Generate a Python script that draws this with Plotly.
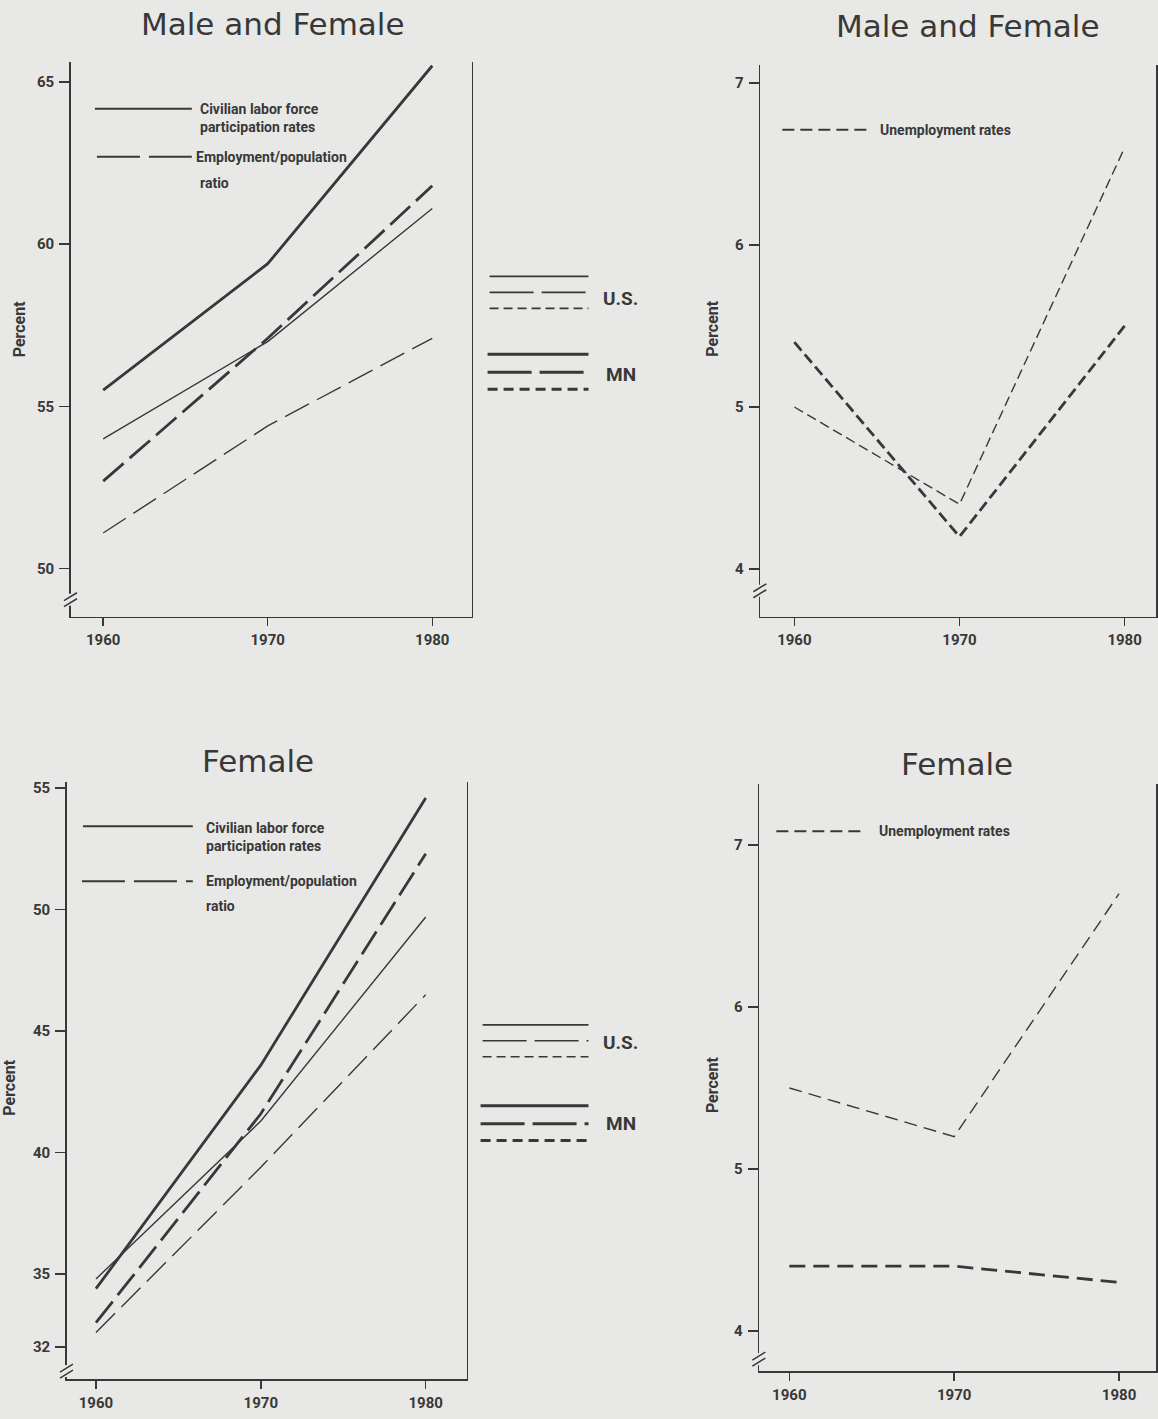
import plotly.graph_objects as go

# ---------------- data ----------------
years = [1960, 1970, 1980]

# Male and Female
mf_us_lfpr = [54.0, 57.0, 61.1]     # U.S. civilian labor force participation
mf_mn_lfpr = [55.5, 59.4, 65.5]     # MN civilian labor force participation
mf_us_epop = [51.1, 54.4, 57.1]     # U.S. employment/population ratio
mf_mn_epop = [52.7, 57.1, 61.8]     # MN employment/population ratio
mf_us_unemp = [5.0, 4.4, 6.6]       # U.S. unemployment rate
mf_mn_unemp = [5.4, 4.2, 5.5]       # MN unemployment rate

# Female
f_us_lfpr = [34.8, 41.3, 49.7]
f_mn_lfpr = [34.4, 43.6, 54.6]
f_us_epop = [32.6, 39.4, 46.5]
f_mn_epop = [33.0, 41.6, 52.3]
f_us_unemp = [5.5, 5.2, 6.7]
f_mn_unemp = [4.4, 4.4, 4.3]

x_ticks = [1960, 1970, 1980]
y_ticks_mf_rates = [50, 55, 60, 65]
y_ticks_mf_unemp = [4, 5, 6, 7]
y_ticks_f_rates = [32, 35, 40, 45, 50, 55]
y_ticks_f_unemp = [4, 5, 6, 7]

titles = ["Male and Female", "Male and Female", "Female", "Female"]
legend_lfpr = "Civilian labor force<br>participation rates"
legend_epop = "Employment/population"
legend_ratio = "ratio"
legend_unemp = "Unemployment rates"
y_title = "Percent"

# ---------------- style / layout ----------------
W, H = 1158, 1419
BG = "#e8e8e6"
INK = "#383838"
NARROW = "Roboto, Liberation Sans, sans-serif"
TITLEF = "DejaVu Sans, Verdana, sans-serif"
THIN, THICK = 1.4, 2.8


def fx(p):
    return p / W


def fy(p):
    return 1 - p / H


# pixel frame of each panel: left, right, top, bottom + axis ranges
panels = [
    dict(l=71, r=472, t=59, b=615, xr=[1958.04, 1982.39], yr=[48.52, 65.62],
         yt=y_ticks_mf_rates, brk=598, title_x=273, title_y=21, pct=(19, 326)),
    dict(l=761, r=1157, t=62, b=615, xr=[1957.94, 1981.90], yr=[3.706, 7.111],
         yt=y_ticks_mf_unemp, brk=589, title_x=969, title_y=23, pct=(713, 326)),
    dict(l=67, r=467, t=781, b=1379, xr=[1958.24, 1982.48], yr=[30.68, 55.24],
         yt=y_ticks_f_rates, brk=1371, title_x=258, title_y=760, pct=(10, 1086)),
    dict(l=760, r=1157, t=783, b=1371, xr=[1958.18, 1982.24], yr=[3.752, 7.375],
         yt=y_ticks_f_unemp, brk=1359, title_x=958, title_y=763, pct=(713, 1084)),
]

fig = go.Figure()


def add_line(i, y, width, dash):
    sfx = "" if i == 0 else str(i + 1)
    fig.add_trace(go.Scatter(
        x=years, y=y, mode="lines", xaxis="x" + sfx, yaxis="y" + sfx,
        line=dict(color=INK, width=width, dash=dash), showlegend=False,
        hoverinfo="skip"))


# panel 1: male and female rates
add_line(0, mf_us_lfpr, THIN, "solid")
add_line(0, mf_mn_lfpr, THICK, "solid")
add_line(0, mf_us_epop, THIN, "27px,9px")
add_line(0, mf_mn_epop, THICK, "27px,8px")
# panel 2: male and female unemployment
add_line(1, mf_us_unemp, THIN, "10px,5px")
add_line(1, mf_mn_unemp, THICK, "11px,5px")
# panel 3: female rates
add_line(2, f_us_lfpr, THIN, "solid")
add_line(2, f_mn_lfpr, THICK, "solid")
add_line(2, f_us_epop, THIN, "27px,9px")
add_line(2, f_mn_epop, THICK, "27px,8px")
# panel 4: female unemployment
add_line(3, f_us_unemp, THIN, "13px,7px")
add_line(3, f_mn_unemp, THICK, "16px,8px")

layout = dict(
    width=W, height=H, margin=dict(l=0, r=0, t=0, b=0),
    paper_bgcolor=BG, plot_bgcolor=BG, showlegend=False,
    font=dict(family=NARROW, color=INK, size=14, weight="bold"),
)

shapes = []
annotations = []

for i, p in enumerate(panels):
    sfx = "" if i == 0 else str(i + 1)
    layout["xaxis" + sfx] = dict(
        domain=[fx(p["l"]), fx(p["r"])], range=p["xr"], anchor="y" + sfx,
        tickvals=x_ticks, ticks="outside", ticklen=8, tickwidth=1.5,
        tickcolor=INK, showline=True, linecolor=INK, linewidth=1.8,
        showgrid=False, zeroline=False, ticklabelstandoff=1,
        tickfont=dict(family=NARROW, size=15, color=INK, weight="bold"),
        fixedrange=True)
    layout["yaxis" + sfx] = dict(
        domain=[fy(p["b"]), fy(p["t"])], range=p["yr"], anchor="x" + sfx,
        tickvals=p["yt"], ticks="outside", ticklen=10, tickwidth=1.5,
        tickcolor=INK, showline=True, mirror=True, linecolor=INK,
        linewidth=1.8, showgrid=False, zeroline=False, ticklabelstandoff=2,
        tickfont=dict(family=NARROW, size=15, color=INK, weight="bold"),
        fixedrange=True)

    # axis break marks on the left axis
    bx, by = p["l"], p["brk"]
    shapes.append(dict(type="line", xref="paper", yref="paper",
                       x0=fx(bx), x1=fx(bx), y0=fy(by - 6), y1=fy(by + 6),
                       line=dict(color=BG, width=5)))
    for off in (-3, 3):
        shapes.append(dict(type="line", xref="paper", yref="paper",
                           x0=fx(bx - 7), y0=fy(by + off + 4),
                           x1=fx(bx + 6), y1=fy(by + off - 4),
                           line=dict(color=INK, width=1.5)))

    annotations.append(dict(text=titles[i], xref="paper", yref="paper",
                            x=fx(p["title_x"]), y=fy(p["title_y"]),
                            xanchor="center", yanchor="middle", showarrow=False,
                            font=dict(family=TITLEF, size=31, color=INK,
                                      weight="normal")))
    annotations.append(dict(text=y_title, xref="paper", yref="paper",
                            x=fx(p["pct"][0]), y=fy(p["pct"][1]), textangle=-90,
                            xanchor="center", yanchor="middle", showarrow=False,
                            font=dict(family=NARROW, size=16, color=INK,
                                      weight="bold")))


def seg(x0, x1, y, width, dash="solid"):
    shapes.append(dict(type="line", xref="paper", yref="paper",
                       x0=fx(x0), x1=fx(x1), y0=fy(y), y1=fy(y),
                       line=dict(color=INK, width=width, dash=dash)))


def label(text, x, y, size=14, anchor="left"):
    annotations.append(dict(text=text, xref="paper", yref="paper",
                            x=fx(x), y=fy(y), xanchor=anchor, yanchor="middle",
                            showarrow=False, align="left",
                            font=dict(family=NARROW, size=size, color=INK,
                                      weight="bold")))


# in-plot keys, rate panels
seg(95, 192, 106, 2.0)
label(legend_lfpr, 198, 115)
seg(97, 192, 154, 2.0, "43px,9px")
label(legend_epop, 194, 154)
label(legend_ratio, 198, 180)

seg(83, 193, 825, 2.0)
label(legend_lfpr, 204, 836)
seg(82, 193, 880, 2.0, "43px,9px")
label(legend_epop, 204, 880)
label(legend_ratio, 204, 905)

# in-plot keys, unemployment panels
seg(783, 868, 127, 2.0, "12px,6px")
label(legend_unemp, 879, 127)
seg(777, 863, 830, 2.0, "12px,6px")
label(legend_unemp, 878, 830)

# middle keys: U.S. (thin) and MN (thick)
for (us_top, mn_top, us_lab, mn_lab, xl) in [(274, 352, 296, 372, 490),
                                             (1024, 1105, 1042, 1123, 483)]:
    seg(xl, 589, us_top, 1.6)
    seg(xl, 589, us_top + 16, 1.6, "44px,8px")
    seg(xl, 589, us_top + 32, 1.6, "9px,5px")
    label("U.S.", 602, us_lab, size=19)
    seg(xl - 2, 589, mn_top, 3.0)
    seg(xl - 2, 589, mn_top + 18, 3.0, "44px,8px")
    seg(xl - 2, 589, mn_top + 35, 3.0, "10px,6px")
    label("MN", 605, mn_lab, size=19)

layout["shapes"] = shapes
layout["annotations"] = annotations
fig.update_layout(**layout)

# remove the browser's default page margin so the figure sits at (0, 0)
page_js = ("document.body.style.margin='0';"
           "document.body.style.background='%s';"
           "document.documentElement.style.overflow='hidden';" % BG)
fig.write_html("out.html", post_script=page_js,
               config={"displayModeBar": False, "staticPlot": True})
